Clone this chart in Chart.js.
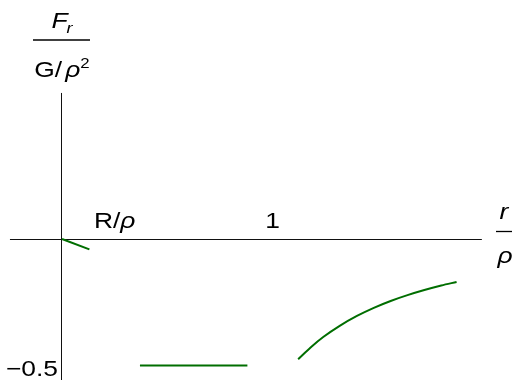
<!DOCTYPE html>
<html><head><meta charset="utf-8">
<script src="https://cdn.jsdelivr.net/npm/chart.js@4"></script>
<style>html,body{margin:0;padding:0;background:#fff;overflow:hidden}#wrap{width:512px;height:380px;position:relative}</style>
</head><body><div id="wrap"><canvas id="c" width="512" height="380"></canvas></div>
<script>
// ---- data ----
const innerR = [0.0, 0.13];
const innerF = [0.0, -0.041];
const shellR = [0.37, 0.88];
const shellF = [-0.498, -0.498];
const outerR = [1.121, 1.18, 1.24, 1.32, 1.40, 1.48, 1.56, 1.64, 1.72, 1.80, 1.873];
const outerF = [-0.473, -0.427, -0.386, -0.341, -0.303, -0.271, -0.244, -0.221, -0.201, -0.183, -0.169];
const xTickValues = [0.25, 1];
const xTickLabels = [[['R/', false], ['ρ', true]], [['1', false]]];
const yTickValues = [-0.5];
const yTickLabels = ['−0.5'];

const FONT = "'Liberation Sans', Arial, sans-serif";
const GREEN = 'rgb(0,110,0)';
const SX = 1.2; // horizontal stretch of the reference's text

function pts(xs, ys) { return xs.map((x, i) => ({x: x, y: ys[i]})); }

function drawRuns(ctx, runs, cx, base, align) {
  // runs: [text, italic, size, dy, dx]
  let w = 0;
  runs.forEach(r => { ctx.font = (r[1] ? 'italic ' : '') + (r[2] || 22) + 'px ' + FONT; w += ctx.measureText(r[0]).width * SX + (r[4] || 0); });
  let x = align === 'right' ? cx - w : cx - w / 2;
  ctx.textAlign = 'left';
  ctx.textBaseline = 'alphabetic';
  runs.forEach(r => {
    ctx.font = (r[1] ? 'italic ' : '') + (r[2] || 22) + 'px ' + FONT;
    x += (r[4] || 0);
    ctx.save();
    ctx.translate(x, base + (r[3] || 0));
    ctx.scale(SX, 1);
    ctx.fillText(r[0], 0, 0);
    ctx.restore();
    x += ctx.measureText(r[0]).width * SX;
  });
  return w;
}

const axesPlugin = {
  id: 'axes',
  beforeDatasetsDraw(chart) {
    const ctx = chart.ctx, xs = chart.scales.x, ys = chart.scales.y;
    const x0 = Math.round(xs.getPixelForValue(0)) - 0.5, y0 = Math.round(ys.getPixelForValue(0)) + 0.5;
    ctx.save();
    ctx.strokeStyle = '#111';
    ctx.lineWidth = 1;
    ctx.beginPath();
    ctx.moveTo(xs.getPixelForValue(-0.247), y0);
    ctx.lineTo(xs.getPixelForValue(1.993), y0);
    ctx.moveTo(x0, ys.getPixelForValue(0.575));
    ctx.lineTo(x0, ys.getPixelForValue(-0.6));
    ctx.stroke();
    ctx.restore();
  },
  afterDraw(chart) {
    const ctx = chart.ctx, xs = chart.scales.x, ys = chart.scales.y;
    const x0 = xs.getPixelForValue(0), y0 = ys.getPixelForValue(0);
    ctx.save();
    ctx.fillStyle = '#000';
    // x tick labels
    xTickValues.forEach((v, i) => {
      drawRuns(ctx, xTickLabels[i].map(r => [r[0], r[1], 22]), xs.getPixelForValue(v), y0 - 11);
    });
    // y tick labels
    yTickValues.forEach((v, i) => {
      drawRuns(ctx, [[yTickLabels[i], false, 22]], x0 - 4, ys.getPixelForValue(v) + 10, 'right');
    });
    // y axis label (fraction)
    drawRuns(ctx, [['F', true, 22], ['r', true, 15, 5, -1]], x0, 28);
    ctx.strokeStyle = '#000'; ctx.lineWidth = 1.3;
    ctx.beginPath(); ctx.moveTo(x0 - 29, 40); ctx.lineTo(x0 + 28, 40); ctx.stroke();
    drawRuns(ctx, [['G/', false, 22], ['ρ', true, 22, 0, 3], ['2', false, 14, -9]], x0, 77);
    // x axis label (fraction)
    const lx = xs.getPixelForValue(2.098);
    drawRuns(ctx, [['r', true, 22]], lx, 219);
    ctx.beginPath(); ctx.moveTo(lx - 8, 231.5); ctx.lineTo(lx + 9, 231.5); ctx.stroke();
    drawRuns(ctx, [['ρ', true, 22]], lx + 1, 263);
    ctx.restore();
  }
};

const ds = (data) => ({
  data: data, showLine: true, borderColor: GREEN, borderWidth: 2,
  pointRadius: 0, fill: false, cubicInterpolationMode: 'monotone'
});

new Chart(document.getElementById('c'), {
  type: 'scatter',
  data: { datasets: [ds(pts(innerR, innerF)), ds(pts(shellR, shellF)), ds(pts(outerR, outerF))] },
  options: {
    responsive: false, animation: false,
    layout: { padding: 0 },
    plugins: { legend: { display: false }, tooltip: { enabled: false } },
    scales: {
      x: { type: 'linear', min: -0.2943, max: 2.136, display: false },
      y: { type: 'linear', min: -0.555, max: 0.941, display: false }
    }
  },
  plugins: [axesPlugin]
});
</script></body></html>
